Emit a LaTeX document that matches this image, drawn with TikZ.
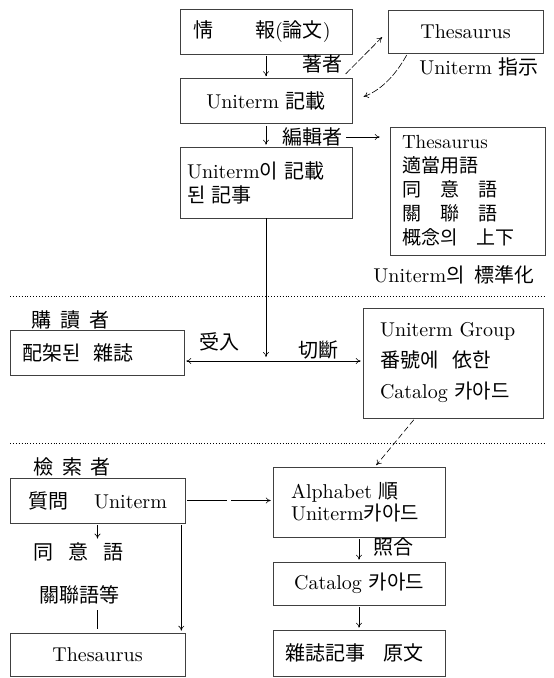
\documentclass[tikz,border=0pt]{standalone}
\usepackage{fontspec}
\setmainfont{lmroman10-regular.otf}
\newfontfamily\cjk{Noto Sans CJK KR}
\usetikzlibrary{arrows.meta}

\begin{document}
\begin{tikzpicture}[x=1pt, y=-1pt, font=\fontsize{20}{24}\selectfont,
    >={To[length=5pt,width=6pt]}]
    \tikzset{
        card/.style={draw=black!75, line width=0.6pt, inner sep=0pt,
            minimum width=172pt, minimum height=45pt},
        tag/.style={inner sep=2pt},
        flow/.style={->, line width=0.6pt, shorten <=2pt, shorten >=2pt},
        hint/.style={flow, dash pattern=on 7pt off 2pt},
        sep/.style={dotted, line width=0.9pt},
    }
    \useasboundingbox (0,0) rectangle (554,678);

    % Boxes
    \node[card, text width=146pt, align=left] (info) at (266,31.5)
        {{\cjk 情}\hspace{42pt}{\cjk 報}({\cjk 論文})};
    \node[card] (rec) at (266,101) {Uniterm {\cjk 記載}};
    \node[card, minimum height=71pt, text width=158pt, align=left] (art) at (266,182.5)
        {Uniterm{\cjk 이}\hspace{6pt}{\cjk 記載}\\{\cjk 된}\hspace{6pt}{\cjk 記事}};
    \node[card, minimum width=155pt, minimum height=43pt] (thes1) at (465.5,31.5) {Thesaurus};
    \node[card, minimum width=155pt, minimum height=128pt, text width=131pt, align=left,
        font=\fontsize{19}{24}\selectfont] (std) at (467.5,191)
        {Thesaurus\\{\cjk 適當用語}\\{\cjk 同\quad 意\quad 語}\\{\cjk 關\quad 聯\quad 語}\\
         {\cjk 概念의}\hspace{1em}{\cjk 上下}};
    \node[card, minimum width=174pt, text width=148pt, align=left] (rack) at (97,352.5)
        {{\cjk 配架된}\hspace{12pt}{\cjk 雜誌}};
    \node[card, minimum width=180pt, minimum height=110pt, text width=146pt, align=left,
        font=\fontsize{20}{31}\selectfont] (group) at (453,363)
        {Uniterm Group\\{\cjk 番號에}\hspace{14pt}{\cjk 依한}\\Catalog {\cjk 카아드}};
    \node[card, minimum height=70pt, text width=136pt, align=left,
        font=\fontsize{20}{22}\selectfont] (alpha) at (359,502)
        {Alphabet {\cjk 順}\\Uniterm{\cjk 카아드}};
    \node[card, minimum height=43pt] (cat) at (359,583.5) {Catalog {\cjk 카아드}};
    \node[card, minimum height=46pt, text width=148pt, align=left] (orig) at (359,653)
        {{\cjk 雜誌記事}\hspace{18pt}{\cjk 原文}};
    \node[card, minimum width=175pt] (query) at (97.5,500.5)
        {{\cjk 質問}\hspace{26pt}Uniterm};
    \node[card, minimum width=175pt, minimum height=43pt] (thes2) at (97.5,654.5) {Thesaurus};

    % Labels
    \node[tag] (author) at (322,64) {{\cjk 著者}};
    \node[tag] (ptr) at (479,67) {Uniterm {\cjk 指示}};
    \node[tag] (editor) at (312,137) {{\cjk 編輯者}};
    \node[tag] (stdcap) at (454,275) {Uniterm{\cjk 의}\hspace{10pt}{\cjk 標準化}};
    \node[tag] (buyer) at (70,320) {{\cjk 購}\hspace{9pt}{\cjk 讀}\hspace{9pt}{\cjk 者}};
    \node[tag] (accept) at (219,342) {{\cjk 受入}};
    \node[tag] (cutlbl) at (318,350) {{\cjk 切斷}};
    \node[tag] (searcher) at (72,467) {{\cjk 檢}\hspace{9pt}{\cjk 索}\hspace{9pt}{\cjk 者}};
    \node[tag] (match) at (393,547) {{\cjk 照合}};
    \node[tag] (syn) at (79,552) {{\cjk 同}\hspace{15pt}{\cjk 意}\hspace{15pt}{\cjk 語}};
    \node[tag] (rel) at (79,595) {{\cjk 關聯語等}};
    \coordinate (cut) at (266,361);

    % Arrows
    \draw[flow] (info.south) -- (rec.north);
    \draw[flow] (rec.south) -- (art.north);
    \draw[flow, shorten >=10pt] (editor.east) -- (editor.east -| std.west);
    \draw[hint, shorten >=8pt] (author.south east) -- (thes1.west);
    \draw[hint, shorten >=12pt] ([xshift=20pt]thes1.south west) to[bend left=20] (rec.east);
    \draw[flow, shorten <=0pt, shorten >=4pt] (art.south) -- (cut);
    \draw[flow, <->] (cut -| rack.east) -- (cut -| group.west);
    \draw[hint, dash pattern=on 6pt off 3pt] ([xshift=-38pt]group.south) -- ([xshift=16pt]alpha.north);
    \draw[hint, dash pattern=on 40pt off 4pt] (query.east) -- (query.east -| alpha.west);
    \draw[flow] (alpha.south) -- (cat.north);
    \draw[flow] (cat.south) -- (orig.north);
    \draw[flow] (query.south) -- (query.south |- syn.north);
    \draw[line width=0.6pt, shorten <=4pt, shorten >=4pt] (query.south |- rel.south) -- (thes2.north);
    \draw[flow] ([xshift=-4pt]query.south east) -- ([xshift=-4pt]thes2.north east);

    % Separators
    \draw[sep] (10,296) -- (545,296);
    \draw[sep] (10,443) -- (545,443);
\end{tikzpicture}
\end{document}
